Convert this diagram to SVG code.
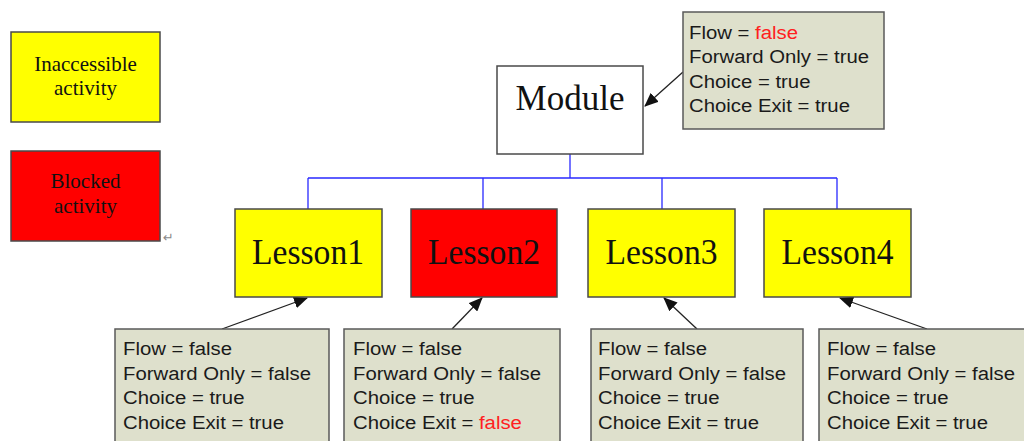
<svg xmlns="http://www.w3.org/2000/svg" width="1024" height="441" viewBox="0 0 1024 441">
<style>
.box{stroke:#4a4a4a;stroke-width:1.5}
.yel{fill:#ffff00}
.red{fill:#ff0000}
.wht{fill:#ffffff}
.note{fill:#dee0cc;stroke:#5a5a5a;stroke-width:1.5}
.serif{font-family:"Liberation Serif","Times New Roman",serif;fill:#111;text-anchor:middle}
.sans{font-family:"Liberation Sans",Arial,sans-serif;font-size:18px;fill:#1a1a1a}
.hl{fill:#ff2020}
.tree{stroke:#2a2aff;stroke-width:1.3;fill:none}
.ptr{stroke:#222;stroke-width:1.3;fill:none;marker-end:url(#ah)}
</style>
<defs>
<marker id="ah" markerWidth="14" markerHeight="12" refX="13" refY="6" orient="auto" markerUnits="userSpaceOnUse">
<path d="M0,0 L14,6 L0,12 z" fill="#111"/>
</marker>
</defs>
<rect width="1024" height="441" fill="#ffffff"/>

<g id="legend-inaccessible">
<rect class="box yel" x="11" y="32" width="149" height="90"/>
<text class="serif" font-size="21" x="85.5" y="71">Inaccessible</text>
<text class="serif" font-size="21" x="85.5" y="95">activity</text>
</g>
<g id="legend-blocked">
<rect class="box red" x="11" y="151" width="149" height="90"/>
<text class="serif" font-size="21" x="85.5" y="188">Blocked</text>
<text class="serif" font-size="21" x="85.5" y="213">activity</text>
<text x="163" y="242" font-family="DejaVu Sans, sans-serif" font-size="13" fill="#8a8a8a">↵</text>
</g>

<g id="connectors">
<path class="tree" d="M570,154 V178 M308,178 H837 M308,178 V209 M483,178 V209 M662,178 V209 M837,178 V209"/>
<line class="ptr" x1="683" y1="72" x2="645" y2="106"/>
<line class="ptr" x1="222" y1="329" x2="307" y2="298"/>
<line class="ptr" x1="452" y1="329" x2="482" y2="298"/>
<line class="ptr" x1="697" y1="329" x2="664" y2="298"/>
<line class="ptr" x1="927" y1="329" x2="840" y2="298"/>
</g>

<g id="module">
<rect class="box wht" x="497" y="66" width="146" height="88"/>
<text class="serif" font-size="35" x="570" y="110">Module</text>
</g>
<g id="module-note">
<rect class="note" x="683" y="12" width="201" height="117"/>
<text class="sans" transform="translate(689,0) scale(1.13,1)"><tspan x="0" y="39">Flow = <tspan class="hl">false</tspan></tspan><tspan x="0" y="63.5">Forward Only = true</tspan><tspan x="0" y="88">Choice = true</tspan><tspan x="0" y="112.5">Choice Exit = true</tspan></text>
</g>

<g id="lesson1">
<rect class="box yel" x="235" y="209" width="147" height="88"/>
<text class="serif" font-size="36" x="308" y="264" textLength="112" lengthAdjust="spacingAndGlyphs">Lesson1</text>
</g>
<g id="lesson2">
<rect class="box red" x="411" y="209" width="146" height="88"/>
<text class="serif" font-size="36" x="484" y="264" textLength="112" lengthAdjust="spacingAndGlyphs">Lesson2</text>
</g>
<g id="lesson3">
<rect class="box yel" x="588" y="209" width="147" height="88"/>
<text class="serif" font-size="36" x="661.5" y="264" textLength="112" lengthAdjust="spacingAndGlyphs">Lesson3</text>
</g>
<g id="lesson4">
<rect class="box yel" x="764" y="209" width="147" height="88"/>
<text class="serif" font-size="36" x="837.5" y="264" textLength="112" lengthAdjust="spacingAndGlyphs">Lesson4</text>
</g>

<g id="note1">
<rect class="note" x="115" y="329" width="214" height="120"/>
<text class="sans" transform="translate(123,0) scale(1.13,1)"><tspan x="0" y="355">Flow = false</tspan><tspan x="0" y="380">Forward Only = false</tspan><tspan x="0" y="404">Choice = true</tspan><tspan x="0" y="429">Choice Exit = true</tspan></text>
</g>
<g id="note2">
<rect class="note" x="344" y="329" width="216" height="120"/>
<text class="sans" transform="translate(353,0) scale(1.13,1)"><tspan x="0" y="355">Flow = false</tspan><tspan x="0" y="380">Forward Only = false</tspan><tspan x="0" y="404">Choice = true</tspan><tspan x="0" y="429">Choice Exit = <tspan class="hl">false</tspan></tspan></text>
</g>
<g id="note3">
<rect class="note" x="591" y="329" width="212" height="120"/>
<text class="sans" transform="translate(598,0) scale(1.13,1)"><tspan x="0" y="355">Flow = false</tspan><tspan x="0" y="380">Forward Only = false</tspan><tspan x="0" y="404">Choice = true</tspan><tspan x="0" y="429">Choice Exit = true</tspan></text>
</g>
<g id="note4">
<rect class="note" x="819" y="329" width="215" height="120"/>
<text class="sans" transform="translate(827,0) scale(1.13,1)"><tspan x="0" y="355">Flow = false</tspan><tspan x="0" y="380">Forward Only = false</tspan><tspan x="0" y="404">Choice = true</tspan><tspan x="0" y="429">Choice Exit = true</tspan></text>
</g>
</svg>
